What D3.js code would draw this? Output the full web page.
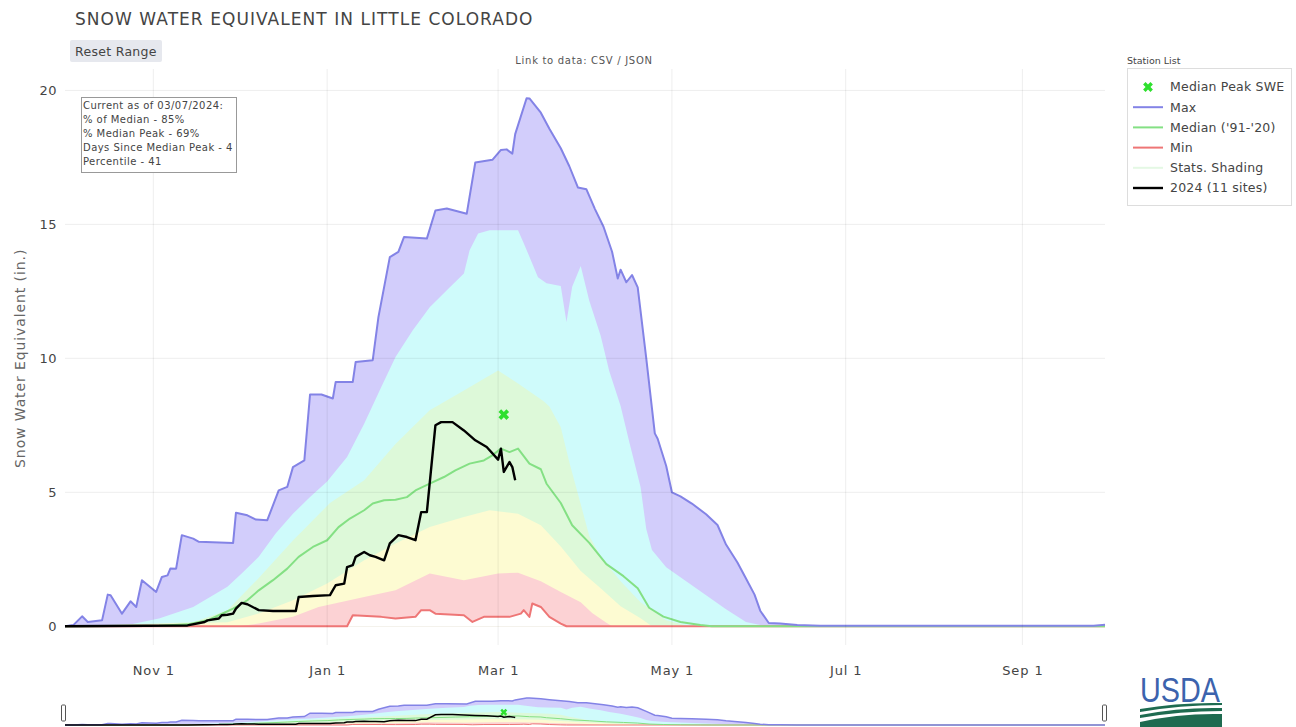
<!DOCTYPE html>
<html>
<head>
<title>Snow Water Equivalent in Little Colorado</title>
<script src="https://d3js.org/d3.v7.min.js"></script>
<style>
  body { margin: 0; background: #fff; }
  text { font-family: "DejaVu Sans", Verdana, sans-serif; }
</style>
</head>
<body>
<div id="chart"></div>
<script>
// water year 2023-10-01 .. 2024-09-30, values in inches
const maxSwe = [["10-01",0],["10-04",0.05],["10-07",0.37],["10-09",0.16],["10-14",0.22],["10-16",1.18],["10-17",1.16],["10-21",0.47],["10-24",0.93],["10-26",0.72],["10-28",1.72],["11-02",1.28],["11-04",1.84],["11-06",1.9],["11-07",2.16],["11-09",2.15],["11-11",3.4],["11-15",3.27],["11-17",3.15],["11-29",3.11],["11-30",4.24],["12-04",4.14],["12-07",3.98],["12-11",3.96],["12-15",5.07],["12-18",5.2],["12-20",5.94],["12-24",6.19],["12-26",8.65],["12-30",8.65],["01-03",8.5],["01-04",9.12],["01-10",9.12],["01-11",9.86],["01-17",9.93],["01-19",11.54],["01-23",13.78],["01-26",13.97],["01-28",14.53],["02-05",14.47],["02-08",15.52],["02-12",15.59],["02-19",15.4],["02-22",17.31],["02-28",17.41],["03-02",17.78],["03-04",17.8],["03-06",17.64],["03-07",18.37],["03-11",19.71],["03-12",19.7],["03-16",19.17],["03-19",18.57],["03-23",17.84],["03-26",17.17],["03-29",16.38],["04-01",16.31],["04-04",15.57],["04-07",14.91],["04-10",13.98],["04-12",12.98],["04-13",13.31],["04-15",12.84],["04-17",13.11],["04-19",12.65],["04-22",10.0],["04-25",7.2],["04-26",7.0],["04-29",5.98],["05-01",5.0],["05-04",4.85],["05-08",4.58],["05-13",4.18],["05-17",3.78],["05-20",3.05],["05-24",2.38],["05-27",1.78],["05-30",1.18],["06-01",0.58],["06-04",0.12],["06-08",0.1],["06-14",0.05],["06-22",0.02],["09-26",0.02],["09-30",0.06]];

const p90Swe = [["10-01",0],["10-23",0.05],["11-03",0.29],["11-15",0.72],["11-27",1.47],["12-02",1.97],["12-08",2.59],["12-14",3.47],["12-20",4.2],["12-26",4.82],["01-01",5.4],["01-08",6.32],["01-14",7.56],["01-20",8.93],["01-25",10.05],["01-31",11.04],["02-06",11.91],["02-12",12.54],["02-18",13.17],["02-20",14.03],["02-23",14.66],["02-27",14.78],["03-08",14.78],["03-10",14.3],["03-15",13.03],["03-18",12.8],["03-23",12.7],["03-25",11.36],["03-27",12.67],["03-30",13.45],["04-02",12.15],["04-06",10.84],["04-09",9.53],["04-13",8.22],["04-16",6.9],["04-20",5.2],["04-22",3.63],["04-24",2.85],["04-29",2.2],["05-06",1.68],["05-13",1.16],["05-20",0.63],["05-27",0.16],["06-03",0],["09-30",0]];

const p70Swe = [["10-01",0],["11-15",0.15],["11-27",0.6],["12-08",1.8],["12-20",3.2],["01-02",4.6],["01-14",5.45],["01-25",6.8],["02-06",8.06],["02-18",8.8],["03-01",9.55],["03-08",9.06],["03-17",8.4],["03-19",8.2],["03-23",7.43],["03-26",6.12],["03-30",4.55],["04-02",3.37],["04-06",2.59],["04-13",1.68],["04-20",0.9],["04-29",0.22],["05-07",0],["09-30",0]];

const medianSwe = [["10-01",0],["11-03",0.02],["11-13",0.07],["11-20",0.22],["11-24",0.41],["11-29",0.66],["12-04",0.97],["12-08",1.34],["12-13",1.72],["12-18",2.15],["12-22",2.59],["12-27",2.96],["01-01",3.21],["01-05",3.7],["01-09",4.02],["01-14",4.33],["01-17",4.58],["01-21",4.7],["01-25",4.72],["01-29",4.82],["02-01",5.07],["02-06",5.32],["02-11",5.57],["02-15",5.82],["02-20",6.07],["02-25",6.19],["02-28",6.38],["03-02",6.63],["03-05",6.5],["03-08",6.63],["03-12",6.07],["03-16",5.86],["03-18",5.32],["03-23",4.6],["03-27",3.77],["04-02",3.11],["04-08",2.32],["04-14",1.87],["04-19",1.42],["04-23",0.69],["04-28",0.36],["05-04",0.16],["05-11",0.05],["05-15",0],["09-30",0]];

const p30Swe = [["10-01",0],["11-27",0.15],["12-08",0.48],["12-20",0.97],["01-01",1.6],["01-14",2.46],["01-25",3.09],["02-06",3.7],["02-18",4.08],["02-27",4.33],["03-08",4.2],["03-16",3.77],["03-23",2.98],["03-30",2.06],["04-06",1.42],["04-13",0.75],["04-20",0.3],["04-24",0],["09-30",0]];

const p10Swe = [["10-01",0],["12-01",0],["12-08",0.1],["12-20",0.35],["12-29",0.72],["01-14",1.09],["01-25",1.34],["02-06",1.97],["02-18",1.72],["03-01",1.97],["03-08",2.0],["03-16",1.68],["03-23",1.28],["03-30",0.9],["04-03",0.49],["04-08",0.13],["04-10",0],["09-30",0]];

const minSwe = [["10-01",0],["01-08",0],["01-10",0.41],["01-20",0.35],["01-25",0.29],["02-01",0.35],["02-03",0.6],["02-06",0.6],["02-08",0.47],["02-18",0.41],["02-21",0.16],["02-25",0.35],["03-05",0.35],["03-09",0.47],["03-10",0.6],["03-12",0.35],["03-13",0.85],["03-16",0.72],["03-19",0.35],["03-23",0.1],["03-25",0],["09-30",0]];

const wy2024Swe = [["10-01",0],["11-13",0.03],["11-19",0.16],["11-20",0.22],["11-24",0.29],["11-25",0.41],["11-27",0.43],["11-29",0.47],["11-30",0.66],["12-02",0.87],["12-04",0.82],["12-08",0.6],["12-13",0.57],["12-21",0.57],["12-22",1.09],["12-27",1.13],["01-02",1.16],["01-04",1.53],["01-07",1.59],["01-08",2.21],["01-10",2.28],["01-11",2.59],["01-14",2.77],["01-16",2.65],["01-18",2.59],["01-21",2.46],["01-23",3.09],["01-26",3.4],["01-29",3.33],["02-01",3.21],["02-03",4.26],["02-05",4.26],["02-08",7.5],["02-10",7.62],["02-14",7.62],["02-18",7.31],["02-22",6.94],["02-26",6.69],["03-01",6.22],["03-02",6.63],["03-03",5.76],["03-05",6.13],["03-06",5.94],["03-07",5.45]];

const medianPeak = [["03-03",7.9]];

const xTickDays = ["11-01","01-01","03-01","05-01","07-01","09-01"];
const yTickValues = [0, 5, 10, 15, 20];

const infoLines = ["Current as of 03/07/2024:", "% of Median - 85%", "% Median Peak - 69%", "Days Since Median Peak - 4", "Percentile - 41"];

const width = 1296, height = 727;
const plot = { left: 65, right: 1105, top: 69, bottom: 645 };

// "MM-DD" -> date inside water year 2024
function parseDay(s) {
    const [m, d] = s.split("-").map(Number);
    return new Date(m >= 10 ? 2023 : 2024, m - 1, d);
}
const toPoints = arr => arr.map(([d, v]) => ({ date: parseDay(d), value: v }));

const series = {
    max: toPoints(maxSwe), p90: toPoints(p90Swe), p70: toPoints(p70Swe),
    median: toPoints(medianSwe), p30: toPoints(p30Swe), p10: toPoints(p10Swe),
    min: toPoints(minSwe), current: toPoints(wy2024Swe), peak: toPoints(medianPeak)
};

const colors = {
    max: "#8383e6", median: "#84e084", min: "#ee7676", current: "#000",
    peak: "#2ee02e",
    fillMax: "#d2cdfb", fillP90: "#cffbfb", fillP70: "#ddf9d9",
    fillP30: "#fdfbd2", fillP10: "#fcd2d4"
};

const svg = d3.select("#chart").append("svg")
    .attr("width", width)
    .attr("height", height);

const x = d3.scaleTime()
    .domain([new Date(2023, 9, 1), new Date(2024, 8, 30)])
    .range([plot.left, plot.right]);

const y = d3.scaleLinear()
    .domain([-0.7, 20.8])
    .range([plot.bottom, plot.top]);

// stacked shading, painted from the top band down
const bands = [
    ["max", colors.fillMax], ["p90", colors.fillP90], ["p70", colors.fillP70],
    ["p30", colors.fillP30], ["p10", colors.fillP10], ["min", "#fff"]
];

function drawPanel(g, ys) {
    const area = d3.area().x(d => x(d.date)).y0(ys(0)).y1(d => ys(d.value));
    const line = d3.line().x(d => x(d.date)).y(d => ys(d.value));

    bands.forEach(([key, fill]) => {
        g.append("path").datum(series[key])
            .attr("d", area)
            .attr("fill", fill);
    });
    return line;
}

//Main plot shading
const main = svg.append("g");
const mainLine = drawPanel(main, y);

//Gridlines (faint, over the shading like the original)
const grid = svg.append("g").attr("stroke", "rgba(0,0,0,0.07)").attr("stroke-width", 1);
grid.selectAll(".hgrid").data(yTickValues.filter(v => v > 0)).enter().append("line")
    .attr("x1", plot.left).attr("x2", plot.right)
    .attr("y1", d => y(d)).attr("y2", d => y(d));
grid.selectAll(".vgrid").data(xTickDays.map(parseDay)).enter().append("line")
    .attr("x1", d => x(d)).attr("x2", d => x(d))
    .attr("y1", plot.top).attr("y2", plot.bottom);

//Lines
[["min", colors.min, 2], ["median", colors.median, 2], ["max", colors.max, 2], ["current", colors.current, 2.4]]
    .forEach(([key, c, w]) => {
        main.append("path").datum(series[key])
            .attr("d", mainLine)
            .attr("fill", "none")
            .attr("stroke", c)
            .attr("stroke-width", w)
            .attr("stroke-linejoin", "round");
    });

//Median peak marker
const xMark = d3.symbol().type(d3.symbolCross).size(70);
main.selectAll(".peak").data(series.peak).enter().append("path")
    .attr("d", xMark)
    .attr("transform", d => `translate(${x(d.date)},${y(d.value)}) rotate(45)`)
    .attr("fill", colors.peak);

//Add X axis
const xAxis = svg.append("g")
    .attr("transform", `translate(0,${plot.bottom + 15})`)
    .call(d3.axisBottom(x).tickValues(xTickDays.map(parseDay))
        .tickFormat(d3.timeFormat("%b %-d")).tickSize(0).tickPadding(6));
xAxis.select(".domain").remove();
xAxis.selectAll("text").attr("font-size", 13).attr("fill", "#444")
    .attr("letter-spacing", 0.9)
    .style("font-family", "DejaVu Sans, Verdana, sans-serif");

//Add Y axis
const yAxis = svg.append("g")
    .attr("transform", `translate(${plot.left},0)`)
    .call(d3.axisLeft(y).tickValues(yTickValues).tickSize(0).tickPadding(8));
yAxis.select(".domain").remove();
yAxis.selectAll("text").attr("font-size", 13).attr("fill", "#444")
    .attr("letter-spacing", 0.5)
    .style("font-family", "DejaVu Sans, Verdana, sans-serif");

//Y axis label
svg.append("text")
    .attr("transform", `translate(25,${(y(0) + y(20)) / 2}) rotate(-90)`)
    .attr("text-anchor", "middle")
    .attr("font-size", 14)
    .attr("letter-spacing", 0.9)
    .attr("fill", "#666")
    .text("Snow Water Equivalent (in.)");

//Title
svg.append("text")
    .attr("x", 75).attr("y", 25)
    .attr("font-size", 17)
    .attr("letter-spacing", 1.05)
    .attr("fill", "#444")
    .text("SNOW WATER EQUIVALENT IN LITTLE COLORADO");

//Reset Range button
svg.append("rect")
    .attr("x", 70).attr("y", 40).attr("width", 92).attr("height", 22)
    .attr("rx", 2).attr("fill", "#e6e8ee");
svg.append("text")
    .attr("x", 75).attr("y", 56)
    .attr("font-size", 12.5).attr("letter-spacing", 0.3).attr("fill", "#444")
    .text("Reset Range");

//Link to data
svg.append("text")
    .attr("x", 584).attr("y", 64)
    .attr("text-anchor", "middle")
    .attr("font-size", 10).attr("letter-spacing", 0.7).attr("fill", "#555")
    .text("Link to data: CSV / JSON");

//Info box
const info = svg.append("g");
info.append("rect")
    .attr("x", 81.5).attr("y", 97.5).attr("width", 155).attr("height", 75)
    .attr("fill", "#fff").attr("stroke", "#999");
info.selectAll("text").data(infoLines).enter().append("text")
    .attr("x", 83).attr("y", (d, i) => 109 + i * 14)
    .attr("font-size", 10).attr("letter-spacing", 0.45).attr("fill", "#444")
    .text(d => d);

//Legend
const legendItems = [
    { label: "Median Peak SWE", type: "marker", color: colors.peak },
    { label: "Max", type: "line", color: colors.max, w: 2 },
    { label: "Median ('91-'20)", type: "line", color: colors.median, w: 2 },
    { label: "Min", type: "line", color: colors.min, w: 2 },
    { label: "Stats. Shading", type: "line", color: "#e4f8e4", w: 2 },
    { label: "2024 (11 sites)", type: "line", color: "#000", w: 2.4 }
];
svg.append("text")
    .attr("x", 1127).attr("y", 64)
    .attr("font-size", 9.5).attr("fill", "#444")
    .text("Station List");
svg.append("rect")
    .attr("x", 1127.5).attr("y", 68.5).attr("width", 164).attr("height", 137)
    .attr("fill", "#fff").attr("stroke", "#ddd");
const leg = svg.append("g").selectAll("g").data(legendItems).enter().append("g")
    .attr("transform", (d, i) => `translate(1133,${87 + i * 20.2})`);
leg.filter(d => d.type === "line").append("line")
    .attr("x1", 0).attr("x2", 30)
    .attr("stroke", d => d.color).attr("stroke-width", d => d.w);
leg.filter(d => d.type === "marker").append("path")
    .attr("d", d3.symbol().type(d3.symbolCross).size(60))
    .attr("transform", "translate(15,0) rotate(45)")
    .attr("fill", d => d.color);
leg.append("text")
    .attr("x", 37).attr("dy", "0.35em")
    .attr("font-size", 12.5).attr("letter-spacing", 0.2).attr("fill", "#444")
    .text(d => d.label);

//Range slider (mini chart)
const yMini = d3.scaleLinear().domain([0, 20.5]).range([725, 697]);
const mini = svg.append("g");
const miniLine = drawPanel(mini, yMini);
[["min", colors.min, 1], ["median", colors.median, 1], ["max", colors.max, 1.5], ["current", colors.current, 1.5]]
    .forEach(([key, c, w]) => {
        mini.append("path").datum(series[key])
            .attr("d", miniLine)
            .attr("fill", "none").attr("stroke", c).attr("stroke-width", w);
    });
mini.selectAll(".mpeak").data(series.peak).enter().append("path")
    .attr("d", d3.symbol().type(d3.symbolCross).size(30))
    .attr("transform", d => `translate(${x(d.date)},${yMini(d.value) - 2}) rotate(45)`)
    .attr("fill", colors.peak);
[plot.left - 2, plot.right - 1].forEach(hx => {
    svg.append("rect")
        .attr("x", hx - 1.5).attr("y", 705).attr("width", 4).attr("height", 16)
        .attr("rx", 1).attr("fill", "#fff").attr("stroke", "#555");
});

//USDA logo
const logo = svg.append("g").attr("transform", "translate(1140,0)");
logo.append("text")
    .attr("transform", "scale(0.8,1)")
    .attr("x", 0).attr("y", 702)
    .attr("font-size", 36)
    .style("font-family", "'Liberation Sans', Arial, sans-serif")
    .attr("fill", "#3c63ad")
    .text("USDA");
logo.append("path")
    .attr("d", "M0,709 Q40,702 82,703 L82,705 Q40,705 0,712 Z")
    .attr("fill", "#1e6b50");
logo.append("path")
    .attr("d", "M0,715 Q40,707 82,708 L82,711 Q40,711 0,718 Z")
    .attr("fill", "#1e6b50");
logo.append("path")
    .attr("d", "M0,722 Q40,713 82,714 L82,727 L0,727 Z")
    .attr("fill", "#1e6b50");
</script>
</body>
</html>
